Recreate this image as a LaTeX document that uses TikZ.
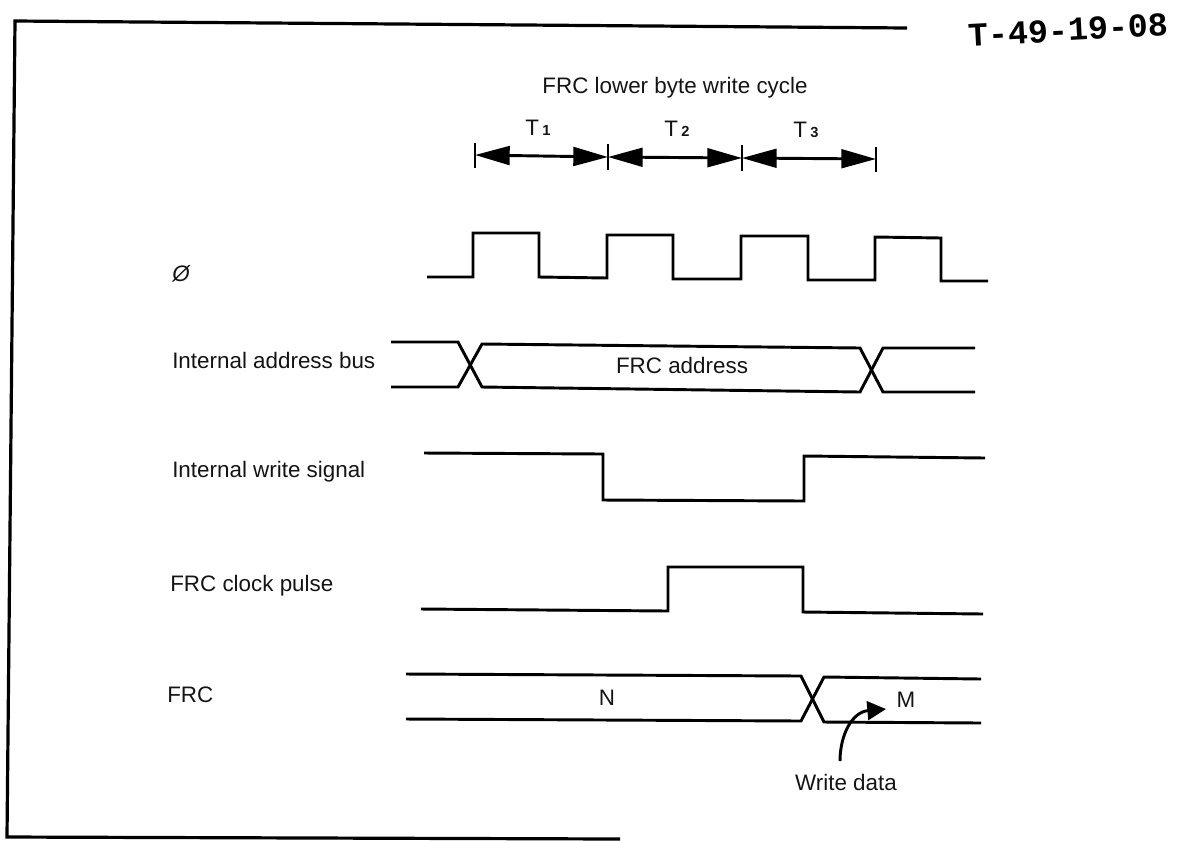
\documentclass[tikz,border=0pt]{standalone}
\usepackage{fontspec}
\setmainfont{Liberation Sans}
\newfontfamily\stampfont{Liberation Mono}
\usetikzlibrary{arrows.meta}
\tikzset{
  sig/.style={line width=2.2pt,line join=miter},
  frameline/.style={line width=2.4pt,line join=miter},
  lbl/.style={inner sep=0pt,anchor=base,font=\fontsize{16.8}{19}\selectfont,text=black!92},
  lbll/.style={lbl,anchor=base west},
  tick/.style={line width=2.2pt},
  span/.style={line width=2.2pt,{Triangle[length=26pt,width=14pt,inset=0pt]}-{Triangle[length=26pt,width=14pt,inset=0pt]}},
  wr/.style={line width=2.2pt,-{Triangle[length=14pt,width=14pt,inset=0pt]}},
  stamp/.style={inner sep=0pt,rotate=3,font=\stampfont\bfseries\fontsize{25}{27}\selectfont}
}
\newcommand{\Tsub}[1]{T\hspace{2.5pt}{\fontsize{11}{12}\selectfont\bfseries #1}}
\begin{document}
\begin{tikzpicture}[x=0.75pt,y=-0.75pt]
\useasboundingbox (0,0) rectangle (1194,840);
% frame
\coordinate (fa) at (907,28); \coordinate (fb) at (15,21); \coordinate (fc) at (7,837); \coordinate (fd) at (620,839);
\draw[frameline] (fa) -- (fb) -- (fc) -- (fd);
% stamp
\node[stamp] (stamp) at (1068,30) {T-49-19-08};
% title and T spans
\node[lbl] (title) at (675,93) {FRC lower byte write cycle};
\coordinate (t0a) at (475,143); \coordinate (t0b) at (475,168);
\coordinate (t1a) at (608,144); \coordinate (t1b) at (608,170);
\coordinate (t2a) at (742,145); \coordinate (t2b) at (742,171);
\coordinate (t3a) at (876,147); \coordinate (t3b) at (876,172);
\draw[tick] (t0a)--(t0b) (t1a)--(t1b) (t2a)--(t2b) (t3a)--(t3b);
\coordinate (s0) at (475,155); \coordinate (s1) at (608,157); \coordinate (s2) at (742,158); \coordinate (s3) at (876,159);
\draw[span] (s0) -- (s1);
\draw[span] (s1) -- (s2);
\draw[span] (s2) -- (s3);
\node[lbll] (T1) at (525,135) {\Tsub{1}};
\node[lbll] (T2) at (664,136) {\Tsub{2}};
\node[lbll] (T3) at (793,137) {\Tsub{3}};
% clock
\node[lbll,font=\fontsize{16.8}{19}\itshape\selectfont] (phi) at (172,281) {Ø};
\draw[sig] (427,277) -- (473,277) -- (473,233) -- (539,233) -- (539,277) -- (607,278) -- (607,235) -- (673,235) -- (673,279) -- (741,279) -- (741,236) -- (808,236) -- (808,280) -- (875,280) -- (875,237) -- (941,238) -- (941,281) -- (988,281);
% address bus
\node[lbll] (iab) at (172,368) {Internal address bus};
\draw[sig] (391,342) -- (458,342) -- (482,387) -- (860,392) -- (883,348) -- (975,348);
\draw[sig] (391,387) -- (458,387) -- (482,344) -- (860,348) -- (883,392) -- (975,392);
\node[lbl] (faddr) at (682,373) {FRC address};
% write signal
\node[lbll] (iws) at (172,477) {Internal write signal};
\draw[sig] (424,453) -- (603,454) -- (603,500) -- (804,501) -- (804,456) -- (985,458);
% clock pulse
\node[lbll] (fcp) at (170,591) {FRC clock pulse};
\draw[sig] (421,609) -- (668,611) -- (668,567) -- (803,567) -- (803,612) -- (983,614);
% FRC
\node[lbll] (frc) at (167,702) {FRC};
\draw[sig] (406,674) -- (801,676) -- (824,722) -- (981,723);
\draw[sig] (406,719) -- (801,721) -- (824,677) -- (981,679);
\node[lbl] (n) at (607,705) {N};
\node[lbl] (m) at (906,707) {M};
\node[lbl] (wd) at (846,790) {Write data};
\coordinate (w0) at (840,761);
\coordinate (w1) at (886,709);
\draw[wr] (w0) .. controls (840,735) and (852,712) .. (w1);
\end{tikzpicture}
\end{document}
